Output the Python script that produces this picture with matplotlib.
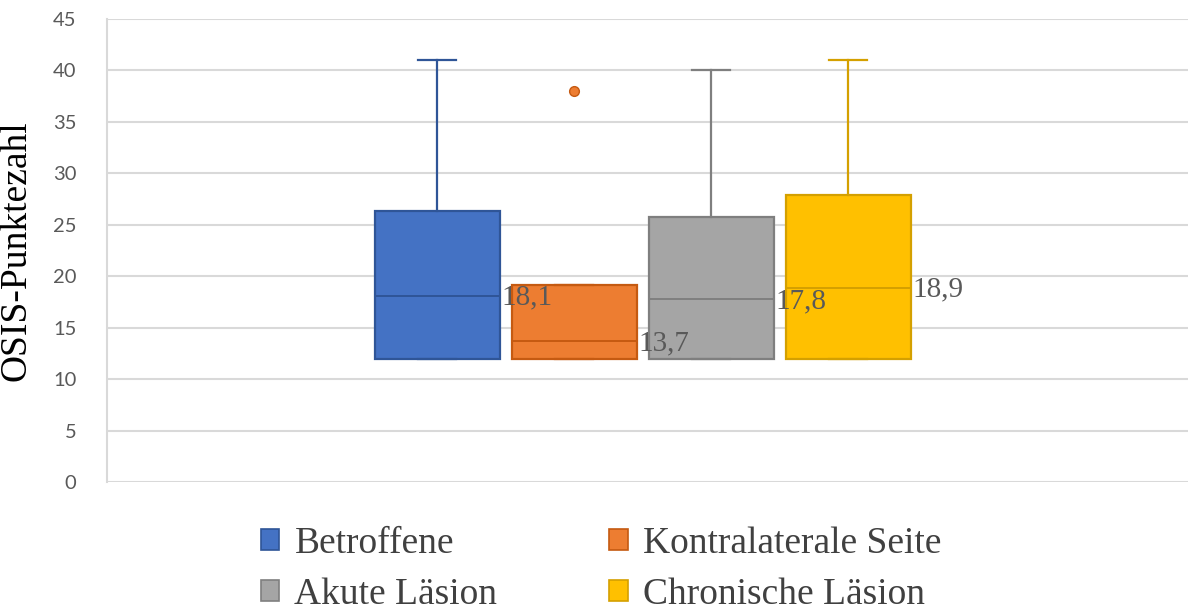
import matplotlib.pyplot as plt
from matplotlib.patches import Patch

# OSIS scores per group (box statistics)
groups = ["Betroffene", "Kontralaterale Seite", "Akute Läsion", "Chronische Läsion"]
q1 = [12.0, 12.0, 12.0, 12.0]
median = [18.1, 13.7, 17.8, 18.9]
q3 = [26.3, 19.1, 25.8, 27.9]
whisker_low = [12.0, 12.0, 12.0, 12.0]
whisker_high = [41.0, 19.1, 40.0, 41.0]
outliers = [[], [38.0], [], []]
median_labels = ["18,1", "13,7", "17,8", "18,9"]

fill_colors = ["#4472C4", "#ED7D31", "#A5A5A5", "#FFC000"]
edge_colors = ["#2F5597", "#C55A11", "#7F7F7F", "#D4A000"]

fig = plt.figure(figsize=(11.88, 6.10), dpi=100)
ax = fig.add_axes([107 / 1188, 1 - 482 / 610, 1 - 107 / 1188, (482 - 19) / 610])

stats = []
for i in range(len(groups)):
    stats.append(dict(label=groups[i], q1=q1[i], med=median[i], q3=q3[i],
                      whislo=whisker_low[i], whishi=whisker_high[i], fliers=outliers[i]))

positions = [1, 2, 3, 4]
bp = ax.bxp(stats, positions=positions, widths=0.91, patch_artist=True,
            showfliers=True, manage_ticks=False)

for i in range(len(groups)):
    box = bp["boxes"][i]
    box.set_facecolor(fill_colors[i])
    box.set_edgecolor(edge_colors[i])
    box.set_linewidth(1.6)
    bp["medians"][i].set_color(edge_colors[i])
    bp["medians"][i].set_linewidth(1.4)
    for w in bp["whiskers"][2 * i:2 * i + 2]:
        w.set_color(edge_colors[i])
        w.set_linewidth(1.6)
    for c in bp["caps"][2 * i:2 * i + 2]:
        c.set_color(edge_colors[i])
        c.set_linewidth(1.6)
        xd = c.get_xdata()
        mid = (xd[0] + xd[1]) / 2
        c.set_xdata([mid - 0.14, mid + 0.14])
    fl = bp["fliers"][i]
    fl.set_marker("o")
    fl.set_markersize(7)
    fl.set_markerfacecolor(fill_colors[i])
    fl.set_markeredgecolor(edge_colors[i])

# median values next to each box
for i in range(len(groups)):
    ax.text(positions[i] + 0.47, median[i] - 0.2, median_labels[i], ha="left", va="center",
            fontsize=21, color="#595959", family="Liberation Serif")

ax.set_xlim(-1.41, 6.48)
ax.set_ylim(0, 45)
ax.set_yticks(range(0, 46, 5))
ax.set_xticks([])
ax.yaxis.grid(True, color="#D9D9D9", linewidth=1.5)
ax.set_axisbelow(True)
ax.tick_params(axis="y", length=0, pad=22, labelsize=14.5, labelcolor="#595959")
for lbl in ax.get_yticklabels():
    lbl.set_family("Lato")
for s in ["top", "right", "bottom"]:
    ax.spines[s].set_visible(False)
ax.spines["left"].set_color("#D9D9D9")
ax.spines["left"].set_linewidth(1.5)

ax.set_ylabel("OSIS-Punktezahl", fontsize=27, family="Liberation Serif", color="black", labelpad=14)

handles = [Patch(facecolor=fill_colors[i], edgecolor=edge_colors[i], linewidth=1.2) for i in range(4)]
order = [0, 2, 1, 3]
fig.legend([handles[i] for i in order], [groups[i] for i in order], ncol=2,
           loc="center", bbox_to_anchor=(601 / 1188, 1 - 569 / 610), frameon=False,
           prop={"family": "Liberation Serif", "size": 27}, labelcolor="#404040",
           handlelength=0.5, handleheight=0.5, handletextpad=0.4,
           columnspacing=2.98, labelspacing=0.45, borderpad=0)

fig.savefig("out.png", dpi=100)
